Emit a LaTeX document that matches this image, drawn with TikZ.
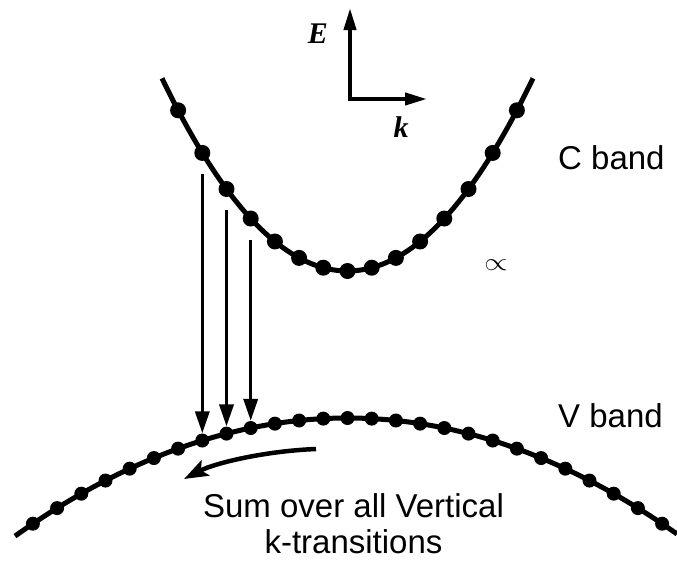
\documentclass[tikz,border=0pt]{standalone}
\usepackage{fontspec}
\setmainfont{Liberation Sans}
\newfontfamily\tnr{Liberation Serif}
\usetikzlibrary{arrows.meta,calc}
\begin{document}
\begin{tikzpicture}[x=1pt,y=-1pt,
  band/.style={line width=5pt},
  cdot/.style={circle,fill=black,inner sep=0pt,minimum size=16pt},
  vdot/.style={circle,fill=black,inner sep=0pt,minimum size=14pt},
  trans/.style={line width=3.5pt,-{Triangle[length=22pt,width=14pt]}},
  sweep/.style={line width=4.5pt,-{Stealth[length=24pt,width=17pt,inset=5pt]}},
  axis/.style={line width=4pt,{Triangle[length=22pt,width=12pt]}-{Triangle[length=22pt,width=12pt]}},
  lbl/.style={font=\fontsize{33}{36}\selectfont,inner sep=0pt},
  axlbl/.style={font=\tnr\bfseries\itshape\fontsize{30}{30}\selectfont,inner sep=0pt}]
\useasboundingbox (0,0) rectangle (677,560);
\fill[white] (0,0) rectangle (677,560);
% axes
\coordinate (o) at (350,99);
\coordinate (eT) at (350,8);
\coordinate (kT) at (427,99);
\draw[axis] (eT) -- (o) -- (kT);
\node[axlbl] (E) at (318,34) {E};
\node[axlbl] (k) at (401,127) {k};
% C band
\draw[band] plot[domain=162:533,samples=90] (\x,{271-0.0056*(\x-347.5)*(\x-347.5)});
\foreach \i in {-7,...,7}
  \node[cdot] (c\i) at ({347.5+24.2*\i},{271-0.0056*(24.2*\i)*(24.2*\i)}) {};
% V band
\draw[band] plot[domain=15:677,samples=120] (\x,{418+0.00107*(\x-347.5)*(\x-347.5)});
\foreach \i in {-13,...,13}
  \node[vdot] (v\i) at ({347.5+24.2*\i},{418+0.00107*(24.2*\i)*(24.2*\i)}) {};
% transitions
\foreach \i in {-6,-5,-4} {
  \coordinate (t\i) at ($(c\i)+(0,21)$);
  \draw[trans] (t\i) -- (v\i.north);
}
% sweep arrow
\coordinate (s1) at (316,449);
\coordinate (s2) at (184,479);
\draw[sweep] (s1) .. controls (265,451) and (215,463) .. (s2);
% labels
\node[lbl,anchor=base west] (Clab) at (558,169) {C band};
\node[lbl,anchor=base west] (Vlab) at (558,427) {V band};
\node[lbl,align=center,anchor=base] (sum) at (353.5,553) {Sum over all Vertical\\k-transitions};
\node[font=\fontsize{28}{28}\selectfont,xscale=1.2,inner sep=0pt] (prop) at (496,265) {$\propto$};
\end{tikzpicture}
\end{document}
